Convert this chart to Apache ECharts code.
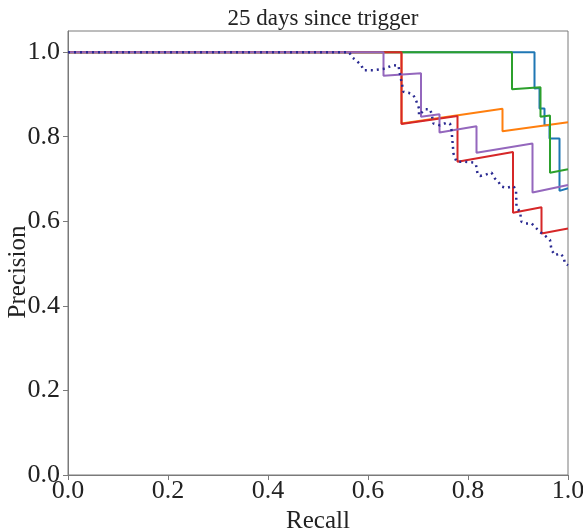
<!DOCTYPE html>
<html>
<head>
<meta charset="utf-8">
<script src="https://cdn.jsdelivr.net/npm/echarts@6/dist/echarts.min.js"></script>
<style>
  html, body { margin: 0; padding: 0; background: #fff; }
  #chart { width: 583px; height: 530px; }
</style>
</head>
<body>
<div id="chart"></div>
<script>
// precision-recall curves, points as [recall, precision]
var curveBlue = [[0, 1], [0.933, 1], [0.933, 0.914], [0.943, 0.915], [0.943, 0.867], [0.953, 0.867],
  [0.953, 0.827], [0.963, 0.827], [0.963, 0.796], [0.983, 0.796], [0.983, 0.672], [1.0, 0.678]];
var curveOrange = [[0, 1], [0.667, 1], [0.667, 0.831], [0.869, 0.866], [0.869, 0.813], [1.0, 0.834]];
var curveGreen = [[0, 1], [0.888, 1], [0.888, 0.912], [0.945, 0.917], [0.945, 0.847], [0.964, 0.85],
  [0.964, 0.715], [1.0, 0.723]];
var curveRed = [[0, 1], [0.667, 1], [0.667, 0.830], [0.779, 0.849], [0.779, 0.741], [0.890, 0.764],
  [0.890, 0.620], [0.947, 0.633], [0.947, 0.571], [1.0, 0.583]];
var curvePurple = [[0, 1], [0.631, 1], [0.631, 0.944], [0.706, 0.950], [0.706, 0.847], [0.743, 0.853],
  [0.743, 0.810], [0.817, 0.825], [0.817, 0.762], [0.929, 0.784], [0.929, 0.668], [1.0, 0.686]];
// dotted curve (micro average)
var curveDotted = [[0, 1], [0.562, 1], [0.569, 0.987], [0.577, 0.980], [0.587, 0.968], [0.591, 0.957],
  [0.610, 0.957], [0.630, 0.960], [0.650, 0.969], [0.661, 0.968], [0.663, 0.953], [0.667, 0.930],
  [0.671, 0.906], [0.681, 0.904], [0.691, 0.898], [0.697, 0.883], [0.702, 0.867], [0.702, 0.851],
  [0.714, 0.865], [0.724, 0.865], [0.727, 0.855], [0.731, 0.831], [0.744, 0.827], [0.757, 0.833],
  [0.764, 0.831], [0.767, 0.816], [0.771, 0.760], [0.777, 0.741], [0.794, 0.741], [0.811, 0.739],
  [0.816, 0.733], [0.819, 0.713], [0.824, 0.707], [0.837, 0.711], [0.847, 0.715], [0.854, 0.701],
  [0.861, 0.693], [0.867, 0.682], [0.877, 0.679], [0.891, 0.683], [0.896, 0.674], [0.897, 0.634],
  [0.904, 0.622], [0.907, 0.599], [0.914, 0.595], [0.927, 0.595], [0.937, 0.583], [0.944, 0.575],
  [0.957, 0.563], [0.964, 0.556], [0.967, 0.532], [0.974, 0.520], [0.984, 0.524], [0.991, 0.516],
  [0.994, 0.500], [1.0, 0.496]];
var tickValues = [0, 0.2, 0.4, 0.6, 0.8, 1.0];

var font = "Liberation Serif";
var spine = "#7a7a7a";

function line(data, color, dotted) {
  return {
    type: "line",
    data: data,
    showSymbol: false,
    symbol: "none",
    lineStyle: { color: color, width: dotted ? 2.5 : 2, type: dotted ? [2, 4] : "solid" },
  };
}

var myChart = echarts.init(document.getElementById("chart"));
var option = {
  animation: false,
  title: {
    text: "25 days since trigger",
    left: 318,
    textAlign: "center",
    top: 2,
    textStyle: { fontFamily: font, fontSize: 23, fontWeight: "normal", color: "#222" },
  },
  grid: {
    left: 68, right: 15, top: 31, bottom: 55,
    outerBoundsMode: "none", containLabel: false,
    show: true, borderColor: spine, borderWidth: 1,
  },
  // y label placed a little below the axis middle, as in the source figure
  graphic: [{
    type: "text",
    x: 18,
    y: 272,
    rotation: Math.PI / 2,
    style: {
      text: "Precision", fontFamily: font, fontSize: 25, fill: "#222",
      align: "center", verticalAlign: "middle",
    },
  }],
  xAxis: {
    type: "value",
    min: 0,
    max: 1,
    interval: 0.2,
    name: "Recall",
    nameLocation: "middle",
    nameGap: 24,
    nameTextStyle: { fontFamily: font, fontSize: 25, color: "#222" },
    splitLine: { show: false },
    axisLine: { lineStyle: { color: spine } },
    axisTick: { length: 5, lineStyle: { color: spine } },
    axisLabel: {
      fontFamily: font, fontSize: 26, color: "#222", margin: 3,
      formatter: function (v) { return v.toFixed(1); },
    },
  },
  yAxis: {
    type: "value",
    min: 0,
    max: 1.05,
    splitLine: { show: false },
    axisLine: { lineStyle: { color: spine } },
    axisTick: { length: 5, customValues: tickValues, lineStyle: { color: spine } },
    axisLabel: {
      fontFamily: font, fontSize: 26, color: "#222", margin: 8,
      customValues: tickValues,
      formatter: function (v) { return v.toFixed(1); },
    },
  },
  series: [
    line(curveBlue, "#1f77b4"),
    line(curveOrange, "#ff7f0e"),
    line(curveGreen, "#2ca02c"),
    line(curveRed, "#d62728"),
    line(curvePurple, "#9467bd"),
    line(curveDotted, "#2b2b92", true),
  ],
};
myChart.setOption(option);
</script>
</body>
</html>
